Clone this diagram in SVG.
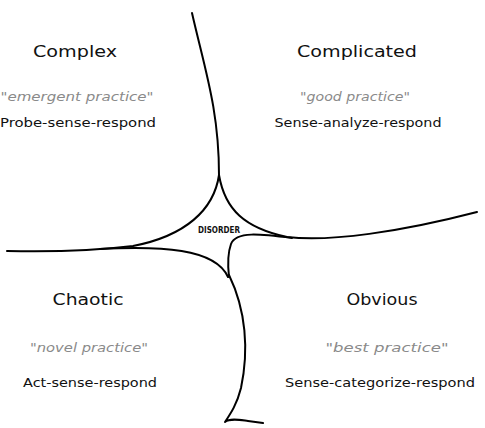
<svg xmlns="http://www.w3.org/2000/svg" width="485" height="428" viewBox="0 0 485 428">
<style>
.t{font-family:"DejaVu Sans","Liberation Sans",sans-serif;text-anchor:middle;fill:#111;}
.title{font-size:16px;}
.q{font-size:13px;font-style:italic;fill:#8a8a8a;}
.a{font-size:13px;}
.d{font-size:8px;font-weight:bold;}
.ln{fill:none;stroke:#000;stroke-width:2;stroke-linecap:round;stroke-linejoin:round;}
</style>
<rect width="485" height="428" fill="#fff"/>
<g id="connectors">
<path class="ln" d="M192,13 C205,70 219,110 219,175"/>
<path class="ln" d="M7,251 C50,252 100,250 133,246 C185,236 214,210 219,175"/>
<path class="ln" d="M219,175 C225,210 245,228 287,237 C330,242 400,232 477,212"/>
<path class="ln" d="M100,249 C160,246 215,248 228,277"/>
<path class="ln" d="M292,238 C260,234 236,231 231,244 C227,255 228,268 229,277"/>
<path class="ln" d="M229,275 C246,310 249,350 241,388 C237,404 231,413 225,422 C230,418 240,420 248,421 L263,423"/>
</g>
<g id="complex">
<text class="t title" x="75" y="57" textLength="84" lengthAdjust="spacingAndGlyphs">Complex</text>
<text class="t q" x="77" y="101" textLength="153" lengthAdjust="spacingAndGlyphs">"emergent practice"</text>
<text class="t a" x="78" y="127" textLength="156" lengthAdjust="spacingAndGlyphs">Probe-sense-respond</text>
</g>
<g id="complicated">
<text class="t title" x="357" y="57" textLength="120" lengthAdjust="spacingAndGlyphs">Complicated</text>
<text class="t q" x="355" y="101" textLength="110" lengthAdjust="spacingAndGlyphs">"good practice"</text>
<text class="t a" x="358" y="127" textLength="167" lengthAdjust="spacingAndGlyphs">Sense-analyze-respond</text>
</g>
<g id="chaotic">
<text class="t title" x="88" y="305" textLength="71" lengthAdjust="spacingAndGlyphs">Chaotic</text>
<text class="t q" x="89" y="352" textLength="118" lengthAdjust="spacingAndGlyphs">"novel practice"</text>
<text class="t a" x="90" y="387" textLength="134" lengthAdjust="spacingAndGlyphs">Act-sense-respond</text>
</g>
<g id="obvious">
<text class="t title" x="382" y="305" textLength="71" lengthAdjust="spacingAndGlyphs">Obvious</text>
<text class="t q" x="387" y="352" textLength="123" lengthAdjust="spacingAndGlyphs">"best practice"</text>
<text class="t a" x="380" y="387" textLength="190" lengthAdjust="spacingAndGlyphs">Sense-categorize-respond</text>
</g>
<g id="disorder">
<text class="t d" x="219" y="233" textLength="42" lengthAdjust="spacingAndGlyphs">DISORDER</text>
</g>
</svg>
